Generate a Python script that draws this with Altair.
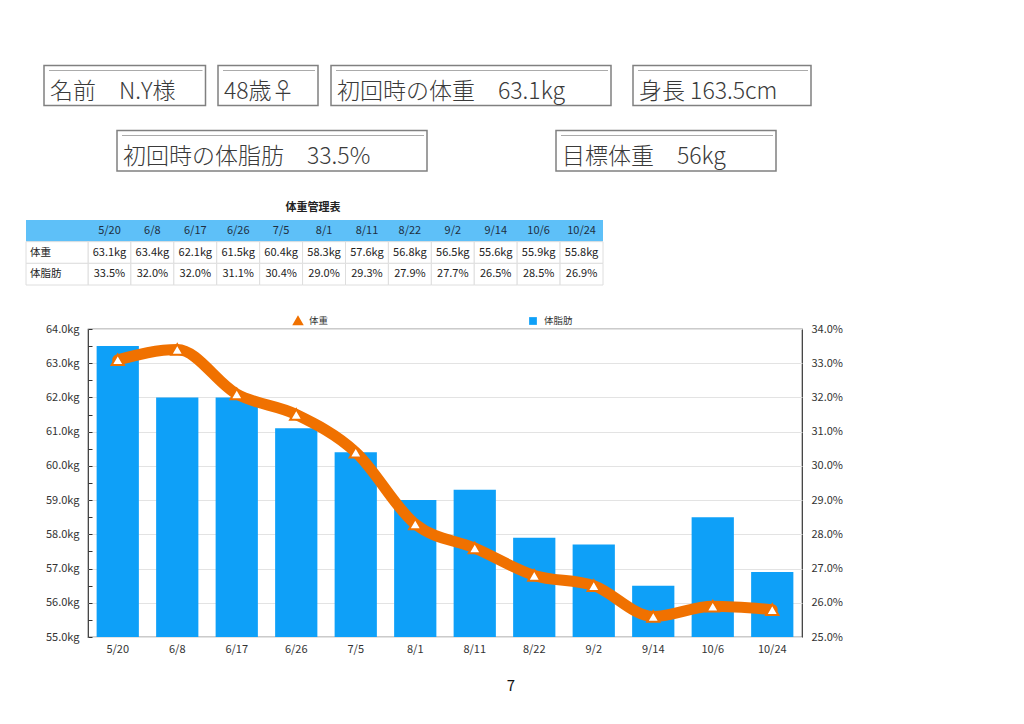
import altair as alt
import pandas as pd

# ---------------- data ----------------
dates = ["5/20", "6/8", "6/17", "6/26", "7/5", "8/1", "8/11", "8/22", "9/2", "9/14", "10/6", "10/24"]
weights = [63.1, 63.4, 62.1, 61.5, 60.4, 58.3, 57.6, 56.8, 56.5, 55.6, 55.9, 55.8]
body_fat = [33.5, 32.0, 32.0, 31.1, 30.4, 29.0, 29.3, 27.9, 27.7, 26.5, 28.5, 26.9]
series_names = ["体重", "体脂肪"]
row_names = ["体重", "体脂肪"]
header_labels = ["名前\u3000N.Y様", "48歳♀", "初回時の体重\u300063.1kg", "身長 163.5cm",
                 "初回時の体脂肪\u300033.5%", "目標体重\u300056kg"]
table_title = "体重管理表"
page_number = "7"
kg_ticks = [55.0, 55.5, 56.0, 56.5, 57.0, 57.5, 58.0, 58.5, 59.0, 59.5, 60.0,
            60.5, 61.0, 61.5, 62.0, 62.5, 63.0, 63.5, 64.0]
fat_ticks = [25.0, 26.0, 27.0, 28.0, 29.0, 30.0, 31.0, 32.0, 33.0, 34.0]

# ---------------- layout / style ----------------
FONT = "Noto Sans CJK JP"
ORANGE = "#F07100"
BLUE = "#0EA0F8"
HDR_BLUE = "#5EC0F8"
OX, OY = 88, 329          # page position of plot origin
W, H = 714, 308


def rx(v):
    return v - OX


def ry(v):
    return v - OY


# header boxes in page coordinates: (left, right, top, bottom)
header_boxes = [(44, 205.5, 65.5, 105.5), (218, 318, 65.5, 105.5), (331, 611, 65.5, 105.5),
                (633, 811, 65.5, 105.5), (117, 427, 130.5, 171), (556, 776, 130.5, 171)]

# ---------------- main chart ----------------
main_df = pd.DataFrame({"date": dates, "weight": weights, "fat": body_fat,
                        "w_series": series_names[0], "f_series": series_names[1]})

x_main = alt.X("date:N", sort=dates,
               scale=alt.Scale(domain=dates, paddingInner=0.29, paddingOuter=0.145),
               axis=alt.Axis(title=None, labelAngle=0, ticks=False, domain=False, grid=False,
                             labelPadding=6, labelFontSize=11, labelColor="#333"))

bars = alt.Chart(main_df).mark_bar().encode(
    x=x_main,
    y=alt.Y("fat:Q", scale=alt.Scale(domain=[25, 34], nice=False, zero=False, clamp=True),
            axis=alt.Axis(orient="right", title=None, values=fat_ticks,
                          labelExpr="format(datum.value, '.1f') + '%'",
                          ticks=False, domain=False, grid=True, gridColor="#e3e3e3",
                          labelPadding=9, labelFontSize=11, labelColor="#333",
                          labelOverlap=False)),
    fill=alt.Fill("f_series:N", scale=alt.Scale(domain=[series_names[1]], range=[BLUE]),
                  legend=alt.Legend(title=None, orient="none", legendX=440, legendY=-13,
                                    symbolType="square", symbolSize=60, labelFontSize=9.5,
                                    labelColor="#333", padding=0, labelOffset=6)),
)

y_weight = alt.Y("weight:Q", scale=alt.Scale(domain=[55, 64], nice=False, zero=False),
                 axis=alt.Axis(orient="left", title=None, values=kg_ticks,
                               labelExpr="datum.value % 1 === 0 ? format(datum.value, '.1f') + 'kg' : ''",
                               tickSize=4, offset=-4, tickColor="#333", domain=False, grid=False,
                               labelPadding=9, labelFontSize=11, labelColor="#333",
                               labelOverlap=False))

line = alt.Chart(main_df).mark_line(
    interpolate="monotone", strokeWidth=11, strokeCap="round", strokeJoin="round",
).encode(
    x=x_main,
    y=y_weight,
    stroke=alt.Stroke("w_series:N", scale=alt.Scale(domain=[series_names[0]], range=[ORANGE]),
                      legend=alt.Legend(title=None, orient="none", legendX=205, legendY=-13,
                                        symbolType="triangle-up", symbolFillColor=ORANGE,
                                        symbolStrokeColor=ORANGE, symbolSize=40,
                                        symbolStrokeWidth=3, labelFontSize=9.5,
                                        labelColor="#333", padding=0, labelOffset=6)),
)

points = alt.Chart(main_df).mark_point(
    shape="triangle-up", filled=True, fill="white", stroke=ORANGE, strokeWidth=2,
    size=150, opacity=1,
).encode(
    x=x_main,
    y=y_weight,
)

main = alt.layer(bars, alt.layer(line, points)).resolve_scale(y="independent")

# ---------------- header boxes ----------------
box_df = pd.DataFrame({
    "label": header_labels,
    "x": [rx(b[0]) for b in header_boxes],
    "x2": [rx(b[1]) for b in header_boxes],
    "y": [ry(b[2]) for b in header_boxes],
    "y2": [ry(b[3]) for b in header_boxes],
})
box_df["lx"] = box_df["x"] + 5
box_df["lx2"] = box_df["x2"] - 3
box_df["ly"] = box_df["y"] + 5
box_df["tx"] = box_df["x"] + 6
box_df["ty"] = box_df["y"] + 26

box_rect = alt.Chart(box_df).mark_rect(fillOpacity=0, stroke="#808080", strokeWidth=1.5).encode(
    x=alt.X("x:Q", scale=None, axis=None), x2="x2:Q",
    y=alt.Y("y:Q", scale=None, axis=None), y2="y2:Q")
box_line = alt.Chart(box_df).mark_rule(stroke="#ababab", strokeWidth=1).encode(
    x=alt.X("lx:Q", scale=None, axis=None), x2="lx2:Q",
    y=alt.Y("ly:Q", scale=None, axis=None))
box_text = alt.Chart(box_df).mark_text(align="left", baseline="middle", fontSize=23,
                                       color="#3a3a3a", font=FONT, fontWeight=300).encode(
    x=alt.X("tx:Q", scale=None, axis=None),
    y=alt.Y("ty:Q", scale=None, axis=None),
    text="label:N")

# ---------------- table ----------------
tbl_rows = ["hdr"] + row_names
tbl_x = alt.Scale(domain=dates, range=[rx(88), rx(603)], paddingInner=0, paddingOuter=0)
tbl_y = alt.Scale(domain=tbl_rows, range=[ry(220), ry(285)], paddingInner=0, paddingOuter=0)

cells = pd.DataFrame(
    [{"row": row_names[0], "date": d, "text": f"{w:.1f}kg"} for d, w in zip(dates, weights)]
    + [{"row": row_names[1], "date": d, "text": f"{f:.1f}%"} for d, f in zip(dates, body_fat)])
hdr_cells = pd.DataFrame({"row": "hdr", "date": dates, "text": dates})
row_lab = pd.DataFrame({"row": row_names})

tx_enc = alt.X("date:N", scale=tbl_x, axis=None, sort=dates)
ty_enc = alt.Y("row:N", scale=tbl_y, axis=None, sort=tbl_rows)

hdr_bg = alt.Chart(pd.DataFrame({"row": ["hdr"]})).mark_rect(fill=HDR_BLUE).encode(
    x=alt.value(rx(26)), x2=alt.value(rx(603)), y=ty_enc)
cell_rect = alt.Chart(cells).mark_rect(fill="white", stroke="#dedede", strokeWidth=1).encode(
    x=tx_enc, y=ty_enc)
lab_rect = alt.Chart(row_lab).mark_rect(fill="white", stroke="#dedede", strokeWidth=1).encode(
    x=alt.value(rx(26)), x2=alt.value(rx(88)), y=ty_enc)
cell_text = alt.Chart(cells).mark_text(fontSize=11, color="#222", font=FONT).encode(
    x=tx_enc, y=ty_enc, text="text:N")
hdr_text = alt.Chart(hdr_cells).mark_text(fontSize=11, color="#1f2f3f", font=FONT).encode(
    x=tx_enc, y=ty_enc, text="text:N")
lab_text = alt.Chart(row_lab).mark_text(fontSize=10.5, color="#222", align="left", font=FONT).encode(
    x=alt.value(rx(30)), y=ty_enc, text="row:N")

title_text = alt.Chart(pd.DataFrame({"t": [table_title]})).mark_text(
    fontSize=11, fontWeight="bold", color="#222", font=FONT).encode(
    x=alt.value(rx(313)), y=alt.value(ry(208)), text="t:N")

page_text = alt.Chart(pd.DataFrame({"t": [page_number]})).mark_text(
    fontSize=15, color="#111", font=FONT).encode(
    x=alt.value(rx(511)), y=alt.value(ry(686)), text="t:N")

chart = alt.layer(
    main, box_rect, box_line, box_text,
    hdr_bg, cell_rect, lab_rect, cell_text, hdr_text, lab_text, title_text, page_text,
).resolve_scale(x="independent", y="independent").properties(
    width=W, height=H,
    autosize=alt.AutoSizeParams(type="none"),
    padding={"left": OX - 8, "top": OY - 8, "right": 200, "bottom": 60},
).configure(font=FONT).configure_view(stroke="#333", strokeWidth=1.2)

chart.save("out.html", embed_options={"renderer": "svg", "actions": False})
